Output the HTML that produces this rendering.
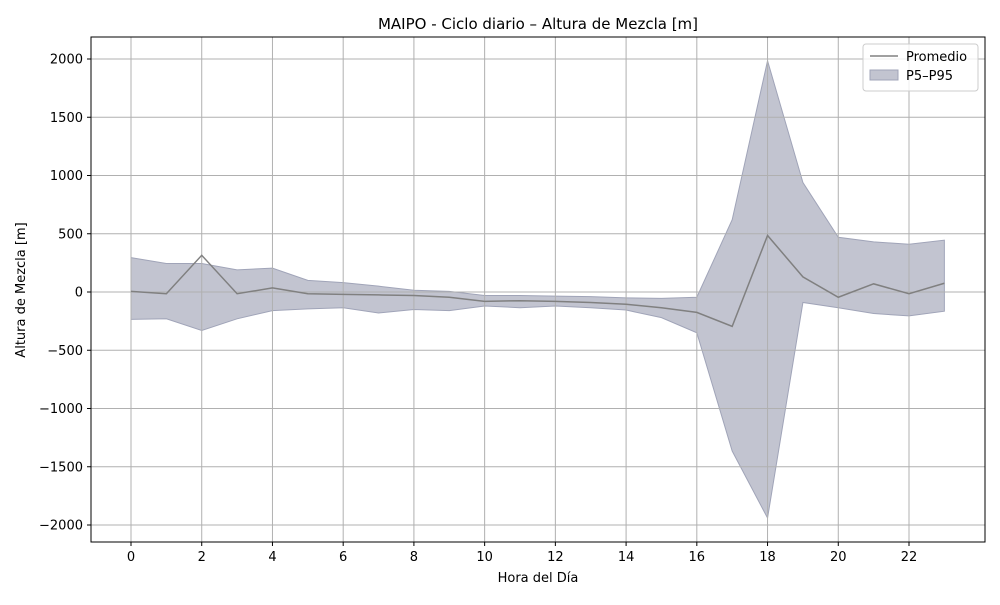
<!DOCTYPE html>
<html><head><meta charset="utf-8"><style>
body{margin:0;background:#fff;font-family:"Liberation Sans","DejaVu Sans",sans-serif}
svg text{font-family:"DejaVu Sans","Liberation Sans",sans-serif}
</style></head><body>
<svg id="chart" width="1000" height="600" xmlns="http://www.w3.org/2000/svg">
<rect width="1000" height="600" fill="#fff"/>
<g id="band"></g><g id="grid"></g><g id="line"></g>
<rect x="91" y="37" width="894" height="505" fill="none" stroke="#000" stroke-width="1"/>
<g id="xt"></g><g id="yt"></g>
<text x="538" y="29" text-anchor="middle" font-size="15">MAIPO - Ciclo diario – Altura de Mezcla [m]</text>
<text x="538" y="582" text-anchor="middle" font-size="13">Hora del Día</text>
<text transform="translate(25,290) rotate(-90)" text-anchor="middle" font-size="13">Altura de Mezcla [m]</text>
<g>
<rect x="863" y="44" width="115" height="47" rx="3" fill="#fff" fill-opacity="0.8" stroke="#ccc"/>
<g><line x1="870" y1="56" x2="898" y2="56" stroke="#808080" stroke-width="1.5"/><text x="906" y="61" font-size="13">Promedio</text></g>
<g><rect x="870" y="70" width="28" height="10" fill="#c2c4d0" stroke="#a0a4b8"/><text x="906" y="80" font-size="13">P5–P95</text></g>
</g>
</svg>
<script>
const hours=[0,1,2,3,4,5,6,7,8,9,10,11,12,13,14,15,16,17,18,19,20,21,22,23];
const meanVals=[5,-15,315,-15,35,-15,-20,-25,-30,-45,-80,-75,-80,-90,-105,-135,-175,-295,485,130,-45,70,-15,75];
const p95Vals=[295,245,245,190,205,100,80,50,15,5,-30,-30,-35,-40,-50,-55,-45,620,1985,940,470,430,410,445];
const p5Vals=[-235,-230,-330,-230,-160,-145,-135,-180,-150,-160,-120,-135,-120,-135,-155,-220,-350,-1365,-1940,-90,-135,-185,-205,-165];
const xTicks=[0,2,4,6,8,10,12,14,16,18,20,22];
const yTicks=[-2000,-1500,-1000,-500,0,500,1000,1500,2000];
const X=h=>131+h*(909-131)/22;
const Y=v=>292-v*(466/4000);
const NS="http://www.w3.org/2000/svg";
function mk(t,a,p){const e=document.createElementNS(NS,t);for(const k in a)e.setAttribute(k,a[k]);p.appendChild(e);return e;}
const grid=document.getElementById('grid'),xt=document.getElementById('xt'),yt=document.getElementById('yt');
xTicks.forEach(t=>{const x=X(t);
 const g=mk('line',{x1:x,x2:x,y1:37,y2:542,stroke:'#b0b0b0','stroke-width':1},grid);
 
 mk('line',{x1:x,x2:x,y1:542,y2:546,stroke:'#000'},xt);
 const l=mk('text',{x:x,y:561,'text-anchor':'middle','font-size':13},xt);l.textContent=t;
 });
yTicks.forEach(t=>{const y=Y(t);
 const g=mk('line',{x1:91,x2:985,y1:y,y2:y,stroke:'#b0b0b0','stroke-width':1},grid);
 
 mk('line',{x1:87,x2:91,y1:y,y2:y,stroke:'#000'},yt);
 const l=mk('text',{x:83,y:y+4.5,'text-anchor':'end','font-size':13},yt);l.textContent=String(t).replace('-','\u2212');
 });
let d=hours.map((h,i)=>(i?'L':'M')+X(h)+','+Y(p95Vals[i])).join('');
for(let i=hours.length-1;i>=0;i--)d+='L'+X(hours[i])+','+Y(p5Vals[i]);
const band=mk('path',{d:d+'Z',fill:'#c2c4d0',stroke:'#a0a4b8','stroke-width':1},document.getElementById('band'));


const ln=mk('path',{d:hours.map((h,i)=>(i?'L':'M')+X(h)+','+Y(meanVals[i])).join(''),fill:'none',stroke:'#808080','stroke-width':1.5},document.getElementById('line'));


</script>
</body></html>
